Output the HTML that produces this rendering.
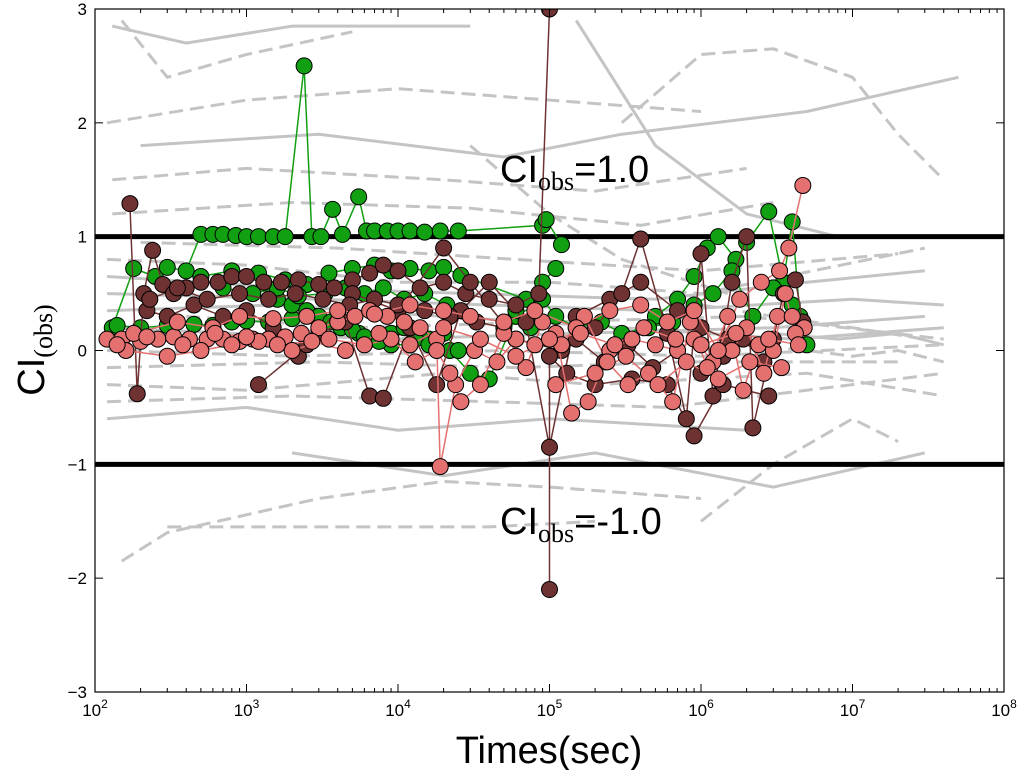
<!DOCTYPE html>
<html><head><meta charset="utf-8">
<style>
body{margin:0;background:#fff;}
svg{display:block;font-family:"Liberation Sans","DejaVu Sans",sans-serif;}
</style></head>
<body>
<svg id="chart" width="1020" height="770" viewBox="0 0 1020 770" xmlns="http://www.w3.org/2000/svg">
<defs><clipPath id="clip"><rect x="95" y="9" width="909" height="683"/></clipPath></defs>
<g id="plot" clip-path="url(#clip)"></g>
<g id="axes"></g>
</svg>
<script>
// ---- data ----
const xTickExps=[2,3,4,5,6,7,8];
const yTicks=[-3,-2,-1,0,1,2,3];
const yTickLabels=["\u22123","\u22122","\u22121","0","1","2","3"];
const thresholds=[1,-1];
const grayLines=[
 [[130,2.85],[400,2.7],[2000,2.85],[30000,2.85]],
 [[150,2.9],[300,2.4],[1000,2.6],[5000,2.8]],
 [[120,2.0],[1000,2.2],[10000,2.3],[100000,2.2],[1000000,2.1]],
 [[200,1.8],[3000,1.9],[50000,1.7],[300000,1.9],[5000000,2.1],[50000000,2.4]],
 [[130,1.5],[1000,1.6],[20000,1.5],[200000,1.4],[2000000,1.6]],
 [[300000,2.0],[1000000,2.6],[3000000,2.65],[10000000,2.4],[20000000,1.9],[40000000,1.5]],
 [[150000,2.9],[500000,1.8],[2000000,1.2],[8000000,1.0]],
 [[130,1.2],[2000,1.3],[30000,1.25],[400000,1.1],[3000000,1.3]],
 [[120,0.8],[1000,0.75],[10000,0.6],[100000,0.6],[1000000,0.5],[30000000,0.9]],
 [[120,0.5],[3000,0.45],[40000,0.4],[500000,0.35],[10000000,0.45],[40000000,0.4]],
 [[120,0.0],[2000,-0.05],[50000,0.0],[1000000,-0.05],[40000000,0.05]],
 [[120,-0.3],[1000,-0.35],[20000,-0.2],[200000,-0.3],[5000000,-0.2],[40000000,-0.4]],
 [[120,-0.6],[1000,-0.5],[10000,-0.7],[100000,-0.6],[2000000,-0.7]],
 [[150,-1.85],[300,-1.6],[3000,-1.3],[20000,-1.15],[100000,-1.2],[1000000,-1.3]],
 [[300,-1.55],[5000,-1.55],[40000,-1.55],[200000,-1.5]],
 [[2000,-0.9],[20000,-1.1],[200000,-0.9],[3000000,-1.2],[30000000,-0.9]],
 [[1000000,-1.5],[3000000,-1.0],[10000000,-0.6],[20000000,-0.8]],
 [[400,0.3],[5000,0.2],[100000,0.25],[2000000,0.3],[40000000,0.1]],
 [[120,0.2],[800,0.15],[9000,0.1],[150000,0.15],[3000000,0.2],[30000000,0.3]],
 [[1000000,0.4],[3000000,0.3],[10000000,0.2],[30000000,0.1]],
 [[30000,1.8],[100000,1.2],[300000,0.8],[1500000,0.5]],
 [[120,0.65],[2000,0.55],[30000,0.5],[500000,0.45],[5000000,0.6],[30000000,0.7]],
 [[120,-0.15],[3000,-0.1],[60000,-0.15],[800000,-0.1],[20000000,-0.1]],
 [[120,-0.45],[2000,-0.4],[40000,-0.45],[600000,-0.5],[10000000,-0.3],[40000000,-0.2]],
 [[120,0.35],[1500,0.4],[20000,0.3],[300000,0.2],[4000000,0.1],[40000000,0.2]],
 [[200,0.95],[4000,0.9],[60000,0.8],[1000000,0.7],[20000000,0.85]],
 [[2000000,0.05],[5000000,0.0],[10000000,-0.05],[20000000,0.0],[40000000,-0.1]],
 [[3000000,0.15],[8000000,0.1],[20000000,0.15],[40000000,0.05]]
];
const greenSeries=[
 [[130,0.2],[180,0.72],[250,0.65],[300,0.73],[400,0.7],[500,1.02],[600,1.02],[700,1.02],[850,1.01],[1000,1.0],[1200,1.0],[1500,1.0],[1800,1.0],[2400,2.5],[2700,1.0],[3100,1.0],[3700,1.24],[4300,1.02],[5500,1.35],[6200,1.05],[7000,1.05],[8500,1.05],[10000,1.05],[12000,1.05],[15000,1.04],[19000,1.05],[25000,1.05],[90000,1.1],[95000,1.15],[120000,0.93]],
 [[140,0.22],[200,0.2],[300,0.22],[450,0.23],[600,0.22],[800,0.25],[1000,0.26],[1400,0.25],[2000,0.28],[2800,0.3],[4000,0.3],[5500,0.15],[7000,0.1],[9000,0.05],[12000,0.05],[16000,0.1],[22000,0.0],[30000,-0.2],[40000,-0.25],[60000,0.3],[80000,0.4]],
 [[500,0.65],[800,0.7],[1200,0.68],[1800,0.62],[2500,0.58],[3500,0.68],[5000,0.72],[7000,0.75],[9000,0.7],[12000,0.72],[16000,0.7],[20000,0.73],[26000,0.66],[70000,0.45],[90000,0.6],[110000,0.72]],
 [[300000,0.1],[500000,0.3],[700000,0.45],[900000,0.65],[1100000,0.9],[1300000,1.0],[1700000,0.8],[2000000,0.95],[2800000,1.22],[3500000,0.6],[4000000,1.13],[4500000,0.3],[5000000,0.05]],
 [[1600,0.45],[2000,0.4],[2500,0.35],[3000,0.3],[3600,0.25],[4200,0.2],[5000,0.18],[6000,0.12],[7500,0.08],[9000,0.15],[11000,0.2],[13000,0.1],[16000,0.05],[20000,0.15],[25000,0.0]],
 [[700,0.55],[1100,0.5],[1600,0.55],[2200,0.48],[3300,0.5],[4500,0.55],[6000,0.5],[8000,0.55],[11000,0.45],[15000,0.5],[21000,0.4]],
 [[60000,0.35],[75000,0.2],[90000,0.45],[110000,0.3],[150000,0.2],[220000,0.25],[300000,0.15],[450000,0.2],[650000,0.25],[900000,0.4],[1200000,0.5],[1600000,0.7],[2200000,0.3],[3000000,0.55],[4000000,0.4]]
];
const darkSeries=[
 [[170,1.29],[190,-0.38],[210,0.5],[240,0.88],[280,0.58],[330,0.5],[400,0.55],[500,0.6],[650,0.6],[800,0.65],[1000,0.65],[1300,0.6],[1700,0.6],[2200,0.62],[3000,0.58],[3800,0.55],[5000,0.62],[6500,0.68],[8000,0.75],[10000,0.7],[14000,0.55],[20000,0.6],[28000,0.5],[40000,0.45],[60000,0.4],[85000,0.5],[100000,3.0]],
 [[220,0.35],[300,0.3],[450,0.4],[700,0.3],[1000,0.35],[1500,0.2],[2200,-0.05],[3000,0.15],[4500,0.25],[6500,-0.4],[8000,-0.42],[12000,0.2],[18000,-0.3],[26000,0.35],[40000,0.6],[70000,0.25],[100000,-0.85],[150000,0.3],[250000,0.45],[400000,0.6],[700000,0.35],[1000000,0.2],[1500000,0.1]],
 [[1200,-0.3],[2500,0.05],[5000,0.5],[10000,0.35],[20000,0.9],[30000,0.6],[60000,0.1],[120000,0.0],[200000,0.2],[300000,0.5],[400000,0.98],[600000,0.15],[800000,-0.6],[1000000,0.85],[1200000,-0.4],[1600000,0.6],[2000000,1.0],[2200000,-0.68],[3000000,0.1],[3500000,0.5],[4200000,0.62],[4700000,0.25]],
 [[100000,-2.1],[100000,-0.05],[130000,-0.2],[200000,-0.3],[350000,-0.25],[600000,-0.3],[900000,-0.75],[1400000,-0.3],[2800000,-0.4]],
 [[230,0.45],[350,0.55],[550,0.45],[900,0.5],[1400,0.45],[2100,0.5],[3200,0.45],[4800,0.4],[7000,0.45],[10000,0.4],[15000,0.35],[22000,0.3],[33000,0.25],[50000,0.2]],
 [[150000,0.1],[230000,-0.1],[330000,0.05],[480000,-0.15],[700000,0.0],[1000000,-0.2],[1400000,-0.05],[1900000,0.1],[2600000,-0.1]]
];
const salmonSeries=[
 [[120,0.1],[150,0.1],[200,0.08],[260,0.1],[330,0.12],[420,0.1],[550,0.1],[700,0.1],[900,0.08],[1100,0.1],[1400,0.1],[1800,0.12],[2300,0.15],[3000,0.2],[4000,0.25],[5200,0.3],[6500,0.35],[8500,0.3],[11000,0.25],[14000,0.2],[18000,0.1],[19000,-1.02],[24000,-0.3],[32000,0.0],[45000,-0.1],[60000,0.1],[80000,0.05],[110000,0.15],[140000,-0.55],[180000,-0.45],[250000,0.0],[350000,0.1],[500000,0.05],[700000,0.0],[900000,0.1],[1200000,-0.1],[1600000,0.0],[2000000,0.2],[2600000,-0.2],[3200000,0.3],[4000000,0.3],[4800000,0.2]],
 [[160,0.0],[300,-0.05],[500,0.0],[800,0.05],[1200,0.08],[2000,0.0],[3500,0.1],[6000,0.05],[9000,0.1],[13000,-0.1],[18000,0.0],[22000,-0.2],[26000,-0.45],[35000,-0.3],[50000,0.15],[70000,-0.15],[90000,0.25],[120000,0.05],[170000,0.3],[240000,-0.1],[330000,-0.3],[450000,-0.2],[650000,-0.45],[850000,0.25],[1100000,-0.15],[1500000,0.3],[1900000,-0.35],[2400000,0.05],[3000000,0.0],[3600000,0.5],[4200000,0.15]],
 [[180,0.15],[350,0.25],[600,0.2],[900,0.3],[1500,0.28],[2500,0.3],[4000,0.35],[7000,0.32],[12000,0.4],[20000,0.35],[30000,0.3],[50000,0.25],[80000,0.35],[150000,0.2],[250000,0.35],[400000,0.4],[600000,0.25],[900000,0.35],[1300000,0.0],[1800000,0.45],[2500000,0.6],[3300000,0.7],[3800000,0.9],[4700000,1.45]],
 [[140,0.05],[220,0.12],[380,0.05],[620,0.15],[1000,0.12],[1600,0.05],[2700,0.08],[4500,0.0],[7500,0.15],[12000,0.05],[20000,0.2],[35000,0.1],[60000,-0.05],[100000,0.1],[160000,0.15],[270000,0.05],[420000,0.2],[680000,0.1],[1000000,0.05],[1700000,0.15],[2800000,0.1],[4400000,0.05]],
 [[110000,-0.3],[200000,-0.2],[320000,-0.05],[520000,-0.3],[800000,-0.1],[1300000,-0.25],[2100000,-0.1],[3400000,-0.15]]
];
// ---- scales ----
const X0=95,X1=1004,Y0=9,Y1=692;
function xs(t){return X0+(Math.log10(t)-2)/6*(X1-X0);}
function ys(v){return Y0+(3-v)/6*(Y1-Y0);}
const NS="http://www.w3.org/2000/svg";
function mk(tag,attrs,parent){const e=document.createElementNS(NS,tag);for(const k in attrs)e.setAttribute(k,attrs[k]);parent.appendChild(e);return e;}
const plot=document.getElementById('plot'),axes=document.getElementById('axes');
function pts(s){return s.map(p=>xs(p[0]).toFixed(1)+","+ys(p[1]).toFixed(1)).join(" ");}
grayLines.forEach((s,i)=>{
 const l=mk('polyline',{points:pts(s),fill:'none',stroke:'#c4c4c4','stroke-width':3,'stroke-dasharray':i%3==0?'none':'14,7'},plot);
 
 
});
thresholds.forEach(v=>{
 const l=mk('line',{x1:X0,x2:X1,y1:ys(v),y2:ys(v),stroke:'#000','stroke-width':5},plot);
 
 
});
function drawSeries(list,color,name){
 list.forEach(s=>{
  const l=mk('polyline',{points:pts(s),fill:'none',stroke:color,'stroke-width':1.5},plot);
  
  
 });
 list.forEach(s=>s.forEach(p=>{
  const c=mk('circle',{cx:xs(p[0]),cy:ys(p[1]),r:8,fill:color,stroke:'#000','stroke-width':1},plot);
  
  
 }));
}
drawSeries(greenSeries,'#11a011','green');
drawSeries(darkSeries,'#6e3232','dark');
drawSeries(salmonSeries,'#e47070','salmon');
// frame
const fr=mk('rect',{x:X0,y:Y0,width:X1-X0,height:Y1-Y0,fill:'none',stroke:'#000','stroke-width':1.2},axes);

xTickExps.forEach(e=>{
 const x=xs(Math.pow(10,e));
 mk('line',{x1:x,x2:x,y1:Y1,y2:Y1-8,stroke:'#000'},axes);
 mk('line',{x1:x,x2:x,y1:Y0,y2:Y0+8,stroke:'#000'},axes);
 if(e<8)for(let m=2;m<10;m++){const xm=xs(m*Math.pow(10,e));mk('line',{x1:xm,x2:xm,y1:Y1,y2:Y1-4,stroke:'#000'},axes);mk('line',{x1:xm,x2:xm,y1:Y0,y2:Y0+4,stroke:'#000'},axes);}
 const t=mk('text',{x:x,y:Y1+24,'text-anchor':'middle','font-size':17},axes);
 
 t.innerHTML='10<tspan dy="-8" font-size="12">'+e+'</tspan>';
});
yTicks.forEach((v,i)=>{
 const y=ys(v);
 mk('line',{x1:X0,x2:X0+8,y1:y,y2:y,stroke:'#000'},axes);
 mk('line',{x1:X1,x2:X1-8,y1:y,y2:y,stroke:'#000'},axes);
 const t=mk('text',{x:X0-8,y:y+6,'text-anchor':'end','font-size':17},axes);
 
 t.textContent=yTickLabels[i];
});
</script>
<svg style="position:absolute;left:0;top:0" width="1020" height="770">
<text x="500" y="182" font-size="38" font-family="Liberation Sans, sans-serif">CI<tspan dy="8" font-size="26" font-family="Liberation Serif, serif">obs</tspan><tspan dy="-8">=1.0</tspan></text>
<text x="500" y="534" font-size="38" font-family="Liberation Sans, sans-serif">CI<tspan dy="8" font-size="26" font-family="Liberation Serif, serif">obs</tspan><tspan dy="-8">=-1.0</tspan></text>
<text x="549" y="763" text-anchor="middle" font-size="38" font-family="Liberation Sans, sans-serif">Times(sec)</text>
<text transform="translate(44,350) rotate(-90)" text-anchor="middle" font-size="38" font-family="Liberation Sans, sans-serif">CI<tspan dy="8" font-size="26" font-family="Liberation Serif, serif">(obs)</tspan></text>
</svg>
</body></html>
